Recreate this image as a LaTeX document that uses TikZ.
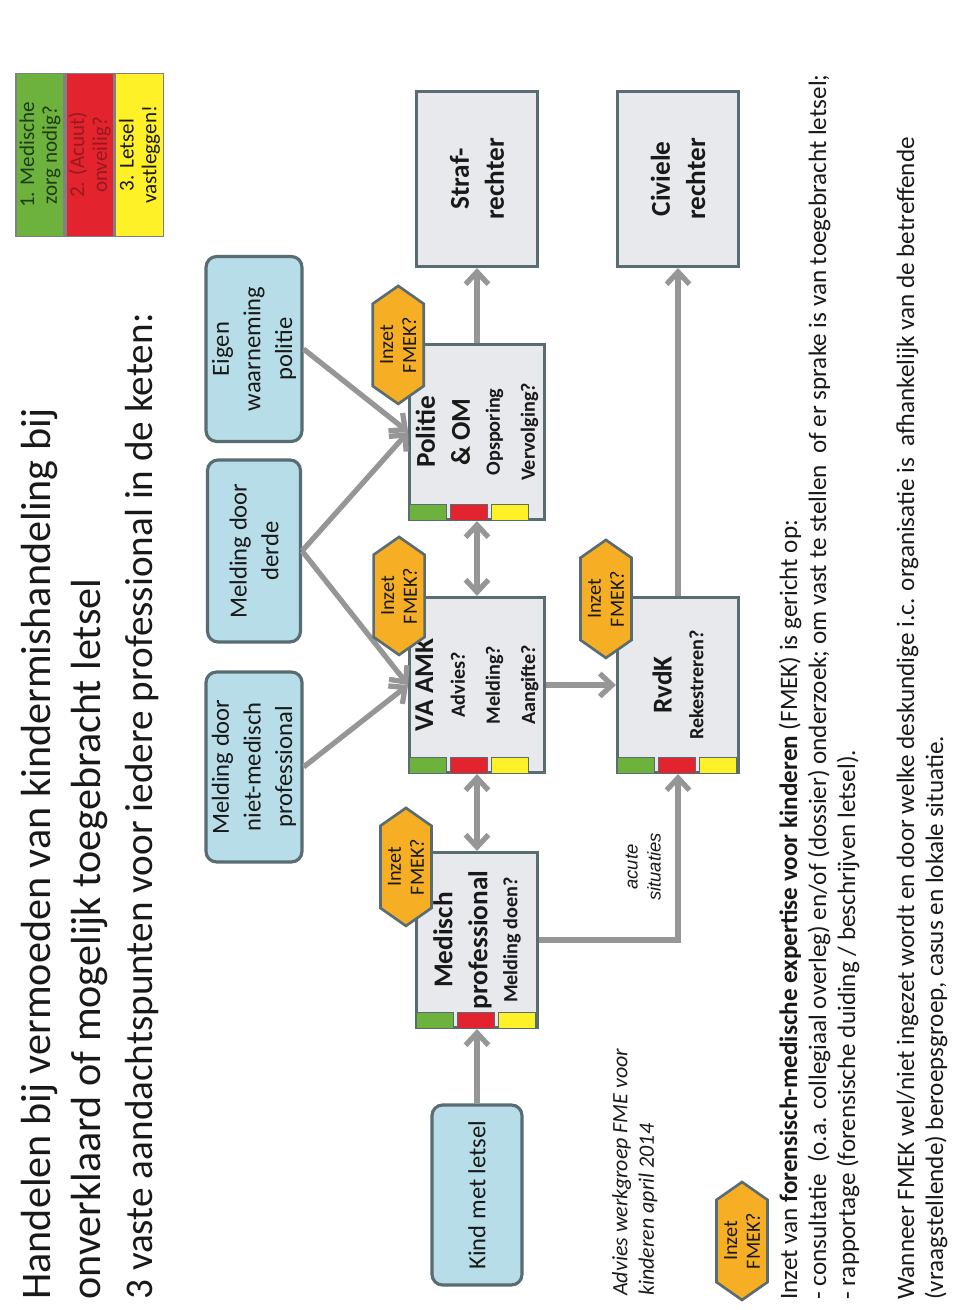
\documentclass[tikz,border=0pt]{standalone}
\usepackage{fontspec}
\setmainfont{Carlito}
\newfontfamily\arialfont{Liberation Sans}
\usetikzlibrary{arrows.meta,shapes.symbols,calc}
\definecolor{sourceblue}{RGB}{183,222,232}
\definecolor{stagegray}{RGB}{231,233,236}
\definecolor{edgeslate}{RGB}{88,108,114}
\definecolor{fmekorange}{RGB}{246,174,36}
\definecolor{barsgreen}{RGB}{110,178,62}
\definecolor{barsred}{RGB}{227,35,45}
\definecolor{barsyellow}{RGB}{255,241,40}
\definecolor{flowgray}{RGB}{150,150,150}
\definecolor{textblack}{RGB}{25,25,25}
\definecolor{darkred}{RGB}{150,25,30}
\definecolor{darkgreen}{RGB}{30,60,20}

% three status bars on the left side of a stage box
\newcommand{\statusbars}[1]{%
  \filldraw[barsgreen, draw=edgeslate, line width=0.4pt] ($(#1.north west)+(1,-1)$) rectangle ($(#1.north west)+(17,-38)$);
  \filldraw[barsred, draw=edgeslate, line width=0.4pt] ($(#1.north west)+(1,-42)$) rectangle ($(#1.north west)+(17,-79)$);
  \filldraw[barsyellow, draw=edgeslate, line width=0.4pt] ($(#1.north west)+(1,-83)$) rectangle ($(#1.north west)+(17,-120)$);
}
\newcommand{\subq}{\fontsize{11.5}{15}\selectfont}

\begin{document}
\begin{tikzpicture}[
    x=0.02cm, y=0.02cm, rotate=90, transform shape,
    sourcebox/.style={rectangle, rounded corners=6pt, draw=edgeslate, line width=1.8pt, fill=sourceblue, minimum width=3.7cm, minimum height=1.86cm, align=center, text=textblack, font=\fontsize{14}{18}\selectfont},
    stagebox/.style={rectangle, draw=edgeslate, line width=1.8pt, fill=stagegray, minimum width=3.5cm, minimum height=2.42cm, align=center, text=textblack, font=\fontsize{15.5}{20}\selectfont\bfseries},
    fmek/.style={signal, signal to=east and west, signal pointer angle=110, draw=edgeslate, line width=1.5pt, fill=fmekorange, minimum width=2.36cm, minimum height=1.02cm, inner sep=1pt, align=center, text=textblack, font=\fontsize{11.5}{13}\selectfont},
    legendbox/.style={rectangle, draw=gray, line width=1pt, minimum width=3.26cm, minimum height=0.96cm, inner sep=1pt, align=center, font=\fontsize{12}{13}\selectfont},
    noteline/.style={anchor=base west, inner sep=0pt, text=textblack, font=\fontsize{14.3}{17}\selectfont},
    flow/.style={-{Straight Barb[length=7pt, width=13pt]}, line width=3pt, color=flowgray},
    twoway/.style={{Straight Barb[length=7pt, width=13pt]}-{Straight Barb[length=7pt, width=13pt]}, line width=3pt, color=flowgray}
  ]
  \useasboundingbox (0,-960) rectangle (1310,0);

  % Title
  \node[anchor=base west, inner sep=0pt, text=textblack, font=\fontsize{24}{28}\selectfont] (titel1) at (10,-50) {Handelen bij vermoeden van kindermishandeling bij};
  \node[anchor=base west, inner sep=0pt, text=textblack, font=\fontsize{24}{28}\selectfont] (titel2) at (10,-100) {onverklaard of mogelijk toegebracht letsel};
  \node[anchor=base west, inner sep=0pt, text=textblack, font=\fontsize{22.3}{26}\selectfont] (titel3) at (10,-152) {3 vaste aandachtspunten voor iedere professional in de keten:};

  % Legend
  \node[legendbox, fill=barsgreen, text=darkgreen] (zorg) at (1155,-40) {1. Medische\\zorg nodig?};
  \node[legendbox, fill=barsred, text=darkred, anchor=north] (veilig) at (zorg.south) {2. (Acuut)\\onveilig?};
  \node[legendbox, fill=barsyellow, text=textblack, anchor=north] (vastleggen) at (veilig.south) {3. Letsel\\vastleggen!};

  % Sources
  \node[sourcebox, minimum width=3.6cm, minimum height=1.8cm] (kind) at (115,-477) {Kind met letsel};
  \node[sourcebox, minimum width=3.8cm] (nietmed) at (543,-254) {Melding door\\niet-medisch\\professional};
  \node[sourcebox, minimum width=3.64cm] (derde) at (759,-254) {Melding door\\derde};
  \node[sourcebox] (eigen) at (961,-254) {Eigen\\waarneming\\politie};

  % Stages in the chain
  \node[stagebox] (medisch) at (370,-477) {Medisch\\professional\\[-3pt]\subq Melding doen?};
  \node[stagebox] (vaamk) at (625,-477) {VA AMK\\[-2pt]\subq Advies?\\\subq Melding?\\\subq Aangifte?};
  \node[stagebox] (politie) at (878,-477) {Politie\\\& OM\\[-3pt]\subq Opsporing\\\subq Vervolging?};
  \node[stagebox] (straf) at (1131,-477) {Straf-\\rechter};
  \node[stagebox] (rvdk) at (625,-678) {RvdK\\[-2pt]\subq Rekestreren?};
  \node[stagebox] (civiele) at (1131,-678) {Civiele\\rechter};

  \statusbars{medisch}
  \statusbars{vaamk}
  \statusbars{politie}
  \statusbars{rvdk}

  % Flows
  \draw[flow] (kind) -- (medisch);
  \draw[twoway] (medisch) -- (vaamk);
  \draw[twoway] (vaamk) -- (politie);
  \draw[flow] (politie) -- (straf);
  \draw[flow] (vaamk) -- (rvdk);
  \draw[flow] (rvdk) -- (civiele);
  \draw[flow] (medisch.south) |- node[pos=0.72, above=5pt, align=center, text=textblack, font=\arialfont\itshape\fontsize{10.5}{13}\selectfont] {acute\\situaties} (rvdk.west);
  \draw[flow] (nietmed.south) -- (vaamk.north);
  \draw[flow] (derde.south) -- (vaamk.north);
  \draw[flow] (derde.south) -- (politie.north);
  \draw[flow] (eigen.south) -- (politie.north);

  % FMEK moments
  \node[fmek] (fmek1) at ($(medisch.north east)+(-16,9)$) {Inzet\\FMEK?};
  \node[fmek] (fmek2) at ($(vaamk.north east)+(0,9)$) {Inzet\\FMEK?};
  \node[fmek] (fmek3) at ($(politie.north east)+(-2,10)$) {Inzet\\FMEK?};
  \node[fmek] (fmek4) at ($(rvdk.north east)+(-3,10)$) {Inzet\\FMEK?};

  % Footnotes
  \node[anchor=north west, align=left, text=textblack, font=\itshape\fontsize{12.5}{15}\selectfont] (advies) at (8,-606) {Advies werkgroep FME voor\\kinderen april 2014};
  \node[fmek] (fmeklegenda) at (69,-742) {Inzet\\FMEK?};
  \node[noteline] (uitleg1) at (10,-797) {Inzet van \textbf{forensisch-medische expertise voor kinderen} (FMEK) is gericht op:};
  \node[noteline] (uitleg2) at (10,-826) {- consultatie~ (o.a. collegiaal overleg) en/of (dossier) onderzoek; om vast te stellen~ of er sprake is van toegebracht letsel;};
  \node[noteline] (uitleg3) at (10,-855) {- rapportage (forensische duiding / beschrijven letsel).};
  \node[noteline] (uitleg4) at (10,-914) {Wanneer FMEK wel/niet ingezet wordt en door welke deskundige i.c. organisatie is~ afhankelijk van de betreffende};
  \node[noteline] (uitleg5) at (10,-943) {(vraagstellende) beroepsgroep, casus en lokale situatie.};

\end{tikzpicture}
\end{document}
